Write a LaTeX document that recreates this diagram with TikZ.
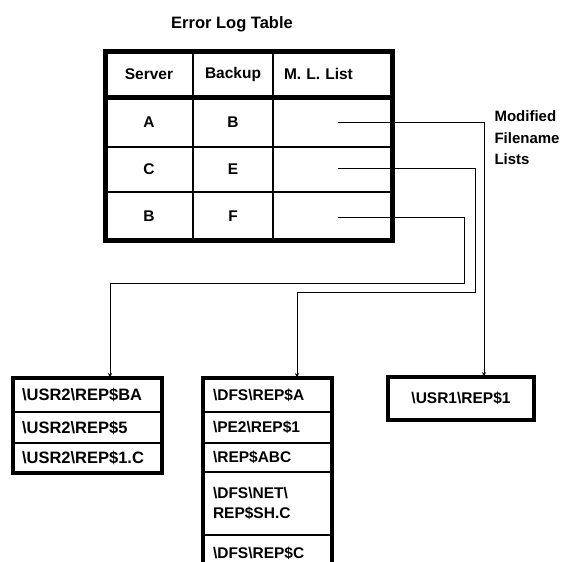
\documentclass[tikz,border=0pt]{standalone}
\usepackage{fontspec}
\setmainfont{Liberation Sans}
\usepackage{tikz}
\usetikzlibrary{arrows.meta, positioning, calc}
\newcommand{\bks}{\textbackslash}
\tikzset{
	tcell/.style={rectangle, draw=black, line width=1.2pt, outer sep=0pt, inner sep=0pt, text centered},
	lcell/.style={rectangle, draw=black, line width=1.2pt, outer sep=0pt, inner xsep=9pt, inner ysep=0pt, text width=131pt, align=left},
	mcell/.style={rectangle, draw=black, line width=1.2pt, outer sep=0pt, inner xsep=10pt, inner ysep=0pt, text width=109pt, align=left},
	heavy/.style={line width=5pt, line join=miter},
	boxedge/.style={line width=3.5pt, line join=miter},
	rowline/.style={line width=2.6pt},
	link/.style={-{Stealth[length=5pt, width=4pt]}, line width=1pt},
}

\begin{document}
\begin{tikzpicture}[x=1pt, y=-1pt, font=\bfseries\fontsize{15.5}{19.5}\selectfont]
	\useasboundingbox (0,0) rectangle (565,562);
	% table title and header
	\node[font=\bfseries\fontsize{16.5}{20}\selectfont] (title) at (232,24) {Error Log Table};
	\node[tcell, minimum width=88pt, minimum height=46pt] (hsrv) at (149,74) {Server};
	\node[tcell, minimum width=80pt, minimum height=46pt, right=0pt of hsrv] (hbak) {Backup};
	\node[tcell, minimum width=119pt, minimum height=46pt, right=0pt of hbak, text width=97pt, inner xsep=11pt, align=left] (hml) {M. L. List};
	% table rows
	\node[tcell, minimum width=88pt, minimum height=50pt, below=0pt of hsrv] (s1) {A};
	\node[tcell, minimum width=80pt, minimum height=50pt, right=0pt of s1] (b1) {B};
	\node[tcell, minimum width=119pt, minimum height=50pt, right=0pt of b1] (m1) {};
	\node[tcell, minimum width=88pt, minimum height=45pt, below=0pt of s1] (s2) {C};
	\node[tcell, minimum width=80pt, minimum height=45pt, right=0pt of s2] (b2) {E};
	\node[tcell, minimum width=119pt, minimum height=45pt, right=0pt of b2] (m2) {};
	\node[tcell, minimum width=88pt, minimum height=48pt, below=0pt of s2] (s3) {B};
	\node[tcell, minimum width=80pt, minimum height=48pt, right=0pt of s3] (b3) {F};
	\node[tcell, minimum width=119pt, minimum height=48pt, right=0pt of b3] (m3) {};
	\draw[rowline] (s1.south west) -- (m1.south east);
	\draw[rowline] (s2.south west) -- (m2.south east);
	\draw[heavy] (hsrv.north west) rectangle (hml.south east);
	\draw[heavy] (s1.north west) rectangle (m3.south east);
	% side label
	\node[anchor=west, align=left, font=\bfseries\fontsize{15}{21.5}\selectfont] (mfl) at (491,138) {Modified\\Filename\\Lists};
	% filename lists
	\node[lcell, minimum height=34pt, font=\bfseries\fontsize{16.5}{20}\selectfont] (l1) at (87.5,395) {\bks USR2\bks REP\$BA};
	\node[lcell, minimum height=31pt, below=0pt of l1, font=\bfseries\fontsize{16.5}{20}\selectfont] (l2) {\bks USR2\bks REP\$5};
	\node[lcell, minimum height=30pt, below=0pt of l2, font=\bfseries\fontsize{16.5}{20}\selectfont] (l3) {\bks USR2\bks REP\$1.C};
	\draw[boxedge] (l1.north west) rectangle (l3.south east);
	\node[mcell, minimum height=34pt] (p1) at (267.5,395) {\bks DFS\bks REP\$A};
	\node[mcell, minimum height=31pt, below=0pt of p1] (p2) {\bks PE2\bks REP\$1};
	\node[mcell, minimum height=29pt, below=0pt of p2] (p3) {\bks REP\$ABC};
	\node[mcell, minimum height=63pt, below=0pt of p3] (p4) {\bks DFS\bks NET\bks\\REP\$SH.C};
	\node[mcell, minimum height=37pt, below=0pt of p4] (p5) {\bks DFS\bks REP\$C};
	\draw[boxedge] (p1.north west) rectangle (p5.south east);
	\node[tcell, minimum width=146pt, minimum height=43pt, line width=3.5pt] (u1) at (461,398.5) {\bks USR1\bks REP\$1};
	% pointers
	\coordinate (r1) at ([xshift=5pt]m1.center);
	\coordinate (r2) at ([xshift=5pt, yshift=1pt]m2.center);
	\coordinate (r3) at ([xshift=5pt, yshift=-1pt]m3.center);
	\draw[link] (r1) -| ([xshift=23pt]u1.north);
	\draw[link] (r2) -| ($(r2)+(138,124)$) -| ([xshift=29.5pt]p1.north);
	\draw[link] (r3) -| ($(r3)+(127,66)$) -| ([xshift=22.5pt]l1.north);
\end{tikzpicture}
\end{document}
